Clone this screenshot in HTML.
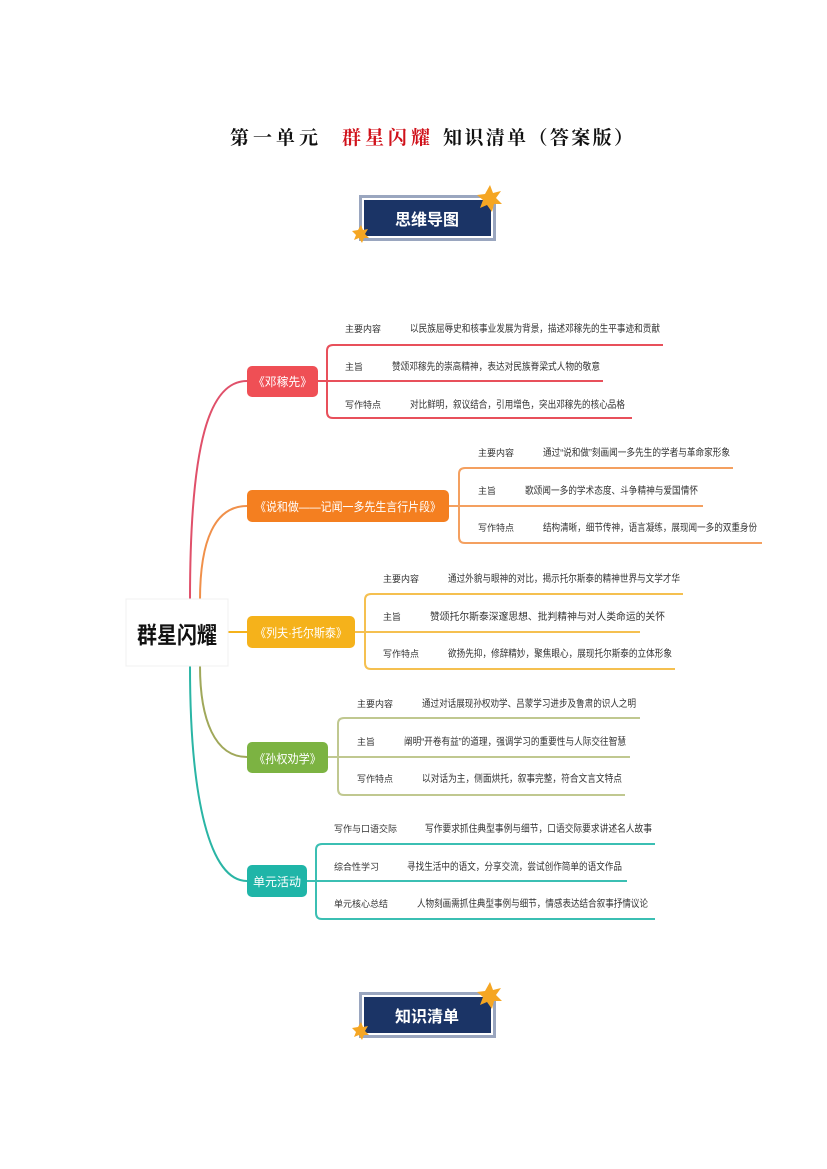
<!DOCTYPE html>
<html><head><meta charset="utf-8"><style>
html,body{margin:0;padding:0;background:#fff;}
svg{display:block;}
text{font-family:"Liberation Sans","Noto Sans CJK SC",sans-serif;}
.c{font-size:10px;fill:#333;}
.l{font-size:9px;fill:#333;}
.t{font-size:12px;fill:#fff;}
</style></head><body>
<svg width="827" height="1169" viewBox="0 0 827 1169" xmlns="http://www.w3.org/2000/svg">
<text x="230" y="144" textLength="88" style="font-family:'Liberation Serif','Noto Serif CJK SC',serif;font-size:19px;font-weight:bold;fill:#111">第一单元</text>
<text x="342" y="144" textLength="88" style="font-family:'Liberation Serif','Noto Serif CJK SC',serif;font-size:19px;font-weight:bold;fill:#d0121b">群星闪耀</text>
<text x="443" y="144" textLength="190" style="font-family:'Liberation Serif','Noto Serif CJK SC',serif;font-size:19px;font-weight:bold;fill:#111">知识清单（答案版）</text>

<g>
<rect x="359" y="195" width="137" height="46" fill="#9aa6bf"/>
<rect x="362" y="198" width="131" height="40" fill="#fff"/>
<rect x="364" y="200" width="127" height="36" fill="#1b3466"/>
<text x="427" y="225" text-anchor="middle" style="font-size:16px;font-weight:bold;fill:#fff">思维导图</text>
<polygon points="490,185 493,193 501,191 496,198 502,204 494,204 492,212 487,205 480,208 483,200 477,195 485,194" fill="#f5a623"/>
<polygon points="361,225 363,230 368,229 365,234 369,238 364,238 362,243 359,238 354,240 356,235 352,231 358,230" fill="#f5a623"/>
</g>
<g>
<rect x="359" y="992" width="137" height="46" fill="#9aa6bf"/>
<rect x="362" y="995" width="131" height="40" fill="#fff"/>
<rect x="364" y="997" width="127" height="36" fill="#1b3466"/>
<text x="427" y="1022" text-anchor="middle" style="font-size:16px;font-weight:bold;fill:#fff">知识清单</text>
<polygon points="490,982 493,990 501,988 496,995 502,1001 494,1001 492,1009 487,1002 480,1005 483,997 477,992 485,991" fill="#f5a623"/>
<polygon points="361,1022 363,1027 368,1026 365,1031 369,1035 364,1035 362,1040 359,1035 354,1037 356,1032 352,1028 358,1027" fill="#f5a623"/>
</g>

<g fill="none" stroke-width="2">
<path d="M190,600 C190,440 210,381 247,381" stroke="#e0506a"/>
<path d="M200,600 C200,540 215,506 247,506" stroke="#f0904a"/>
<path d="M228,632 H247" stroke="#f5b21b"/>
<path d="M200,666 C200,720 215,757 247,757" stroke="#a0a85a"/>
<path d="M190,666 C190,800 210,881 247,881" stroke="#2ab5a5"/>
</g>

<rect x="126" y="599" width="102" height="67" fill="#fff" stroke="#f0f0f0"/>
<text x="137" y="643" textLength="80" lengthAdjust="spacingAndGlyphs" style="font-size:23px;font-weight:bold;fill:#111">群星闪耀</text>

<g fill="none" stroke="#e8505b" stroke-width="2">
<path d="M663,345 H333 Q327,345 327,351 V412 Q327,418 333,418 H632"/>
<path d="M318,381 H603"/>
</g>
<rect x="247" y="366" width="71" height="31" rx="5" fill="#ef4f55"/>
<text class="t" x="253" y="386" textLength="59" lengthAdjust="spacingAndGlyphs">《邓稼先》</text>
<text class="l" x="345" y="332">主要内容</text><text class="c" x="410" y="332" textLength="250" lengthAdjust="spacingAndGlyphs">以民族屈辱史和核事业发展为背景，描述邓稼先的生平事迹和贡献</text>
<text class="l" x="345" y="370">主旨</text><text class="c" x="392" y="370" textLength="208" lengthAdjust="spacingAndGlyphs">赞颂邓稼先的崇高精神，表达对民族脊梁式人物的敬意</text>
<text class="l" x="345" y="408">写作特点</text><text class="c" x="410" y="408" textLength="215" lengthAdjust="spacingAndGlyphs">对比鲜明，叙议结合，引用增色，突出邓稼先的核心品格</text>

<g fill="none" stroke="#f4a060" stroke-width="2">
<path d="M733,468 H465 Q459,468 459,474 V537 Q459,543 465,543 H762"/>
<path d="M449,506 H703"/>
</g>
<rect x="247" y="490" width="202" height="32" rx="5" fill="#f47f20"/>
<text class="t" x="255" y="511" textLength="186" lengthAdjust="spacingAndGlyphs">《说和做——记闻一多先生言行片段》</text>
<text class="l" x="478" y="456">主要内容</text><text class="c" x="543" y="456" textLength="187" lengthAdjust="spacingAndGlyphs">通过“说和做”刻画闻一多先生的学者与革命家形象</text>
<text class="l" x="478" y="494">主旨</text><text class="c" x="525" y="494" textLength="173" lengthAdjust="spacingAndGlyphs">歌颂闻一多的学术态度、斗争精神与爱国情怀</text>
<text class="l" x="478" y="531">写作特点</text><text class="c" x="543" y="531" textLength="214" lengthAdjust="spacingAndGlyphs">结构清晰，细节传神，语言凝练，展现闻一多的双重身份</text>

<g fill="none" stroke="#f5c050" stroke-width="2">
<path d="M683,594 H371 Q365,594 365,600 V663 Q365,669 371,669 H675"/>
<path d="M355,632 H640"/>
</g>
<rect x="247" y="616" width="108" height="32" rx="5" fill="#f5b21b"/>
<text class="t" x="255" y="637" textLength="92" lengthAdjust="spacingAndGlyphs">《列夫·托尔斯泰》</text>
<text class="l" x="383" y="582">主要内容</text><text class="c" x="448" y="582" textLength="232" lengthAdjust="spacingAndGlyphs">通过外貌与眼神的对比，揭示托尔斯泰的精神世界与文学才华</text>
<text class="l" x="383" y="620">主旨</text><text class="c" x="430" y="620" textLength="235" lengthAdjust="spacingAndGlyphs">赞颂托尔斯泰深邃思想、批判精神与对人类命运的关怀</text>
<text class="l" x="383" y="657">写作特点</text><text class="c" x="448" y="657" textLength="224" lengthAdjust="spacingAndGlyphs">欲扬先抑，修辞精妙，聚焦眼心，展现托尔斯泰的立体形象</text>

<g fill="none" stroke="#c0c890" stroke-width="2">
<path d="M640,718 H344 Q338,718 338,724 V789 Q338,795 344,795 H625"/>
<path d="M328,757 H630"/>
</g>
<rect x="247" y="742" width="81" height="31" rx="5" fill="#7cb342"/>
<text class="t" x="254" y="763" textLength="67" lengthAdjust="spacingAndGlyphs">《孙权劝学》</text>
<text class="l" x="357" y="707">主要内容</text><text class="c" x="422" y="707" textLength="214" lengthAdjust="spacingAndGlyphs">通过对话展现孙权劝学、吕蒙学习进步及鲁肃的识人之明</text>
<text class="l" x="357" y="745">主旨</text><text class="c" x="404" y="745" textLength="222" lengthAdjust="spacingAndGlyphs">阐明“开卷有益”的道理，强调学习的重要性与人际交往智慧</text>
<text class="l" x="357" y="782">写作特点</text><text class="c" x="422" y="782" textLength="200" lengthAdjust="spacingAndGlyphs">以对话为主，侧面烘托，叙事完整，符合文言文特点</text>

<g fill="none" stroke="#3bbfb3" stroke-width="2">
<path d="M655,844 H322 Q316,844 316,850 V913 Q316,919 322,919 H655"/>
<path d="M307,881 H627"/>
</g>
<rect x="247" y="865" width="60" height="32" rx="5" fill="#1fb5a8"/>
<text class="t" x="253" y="886" textLength="48" lengthAdjust="spacingAndGlyphs">单元活动</text>
<text class="l" x="334" y="832">写作与口语交际</text><text class="c" x="425" y="832" textLength="227" lengthAdjust="spacingAndGlyphs">写作要求抓住典型事例与细节，口语交际要求讲述名人故事</text>
<text class="l" x="334" y="870">综合性学习</text><text class="c" x="407" y="870" textLength="215" lengthAdjust="spacingAndGlyphs">寻找生活中的语文，分享交流，尝试创作简单的语文作品</text>
<text class="l" x="334" y="907">单元核心总结</text><text class="c" x="417" y="907" textLength="231" lengthAdjust="spacingAndGlyphs">人物刻画需抓住典型事例与细节，情感表达结合叙事抒情议论</text>
</svg>
</body></html>
